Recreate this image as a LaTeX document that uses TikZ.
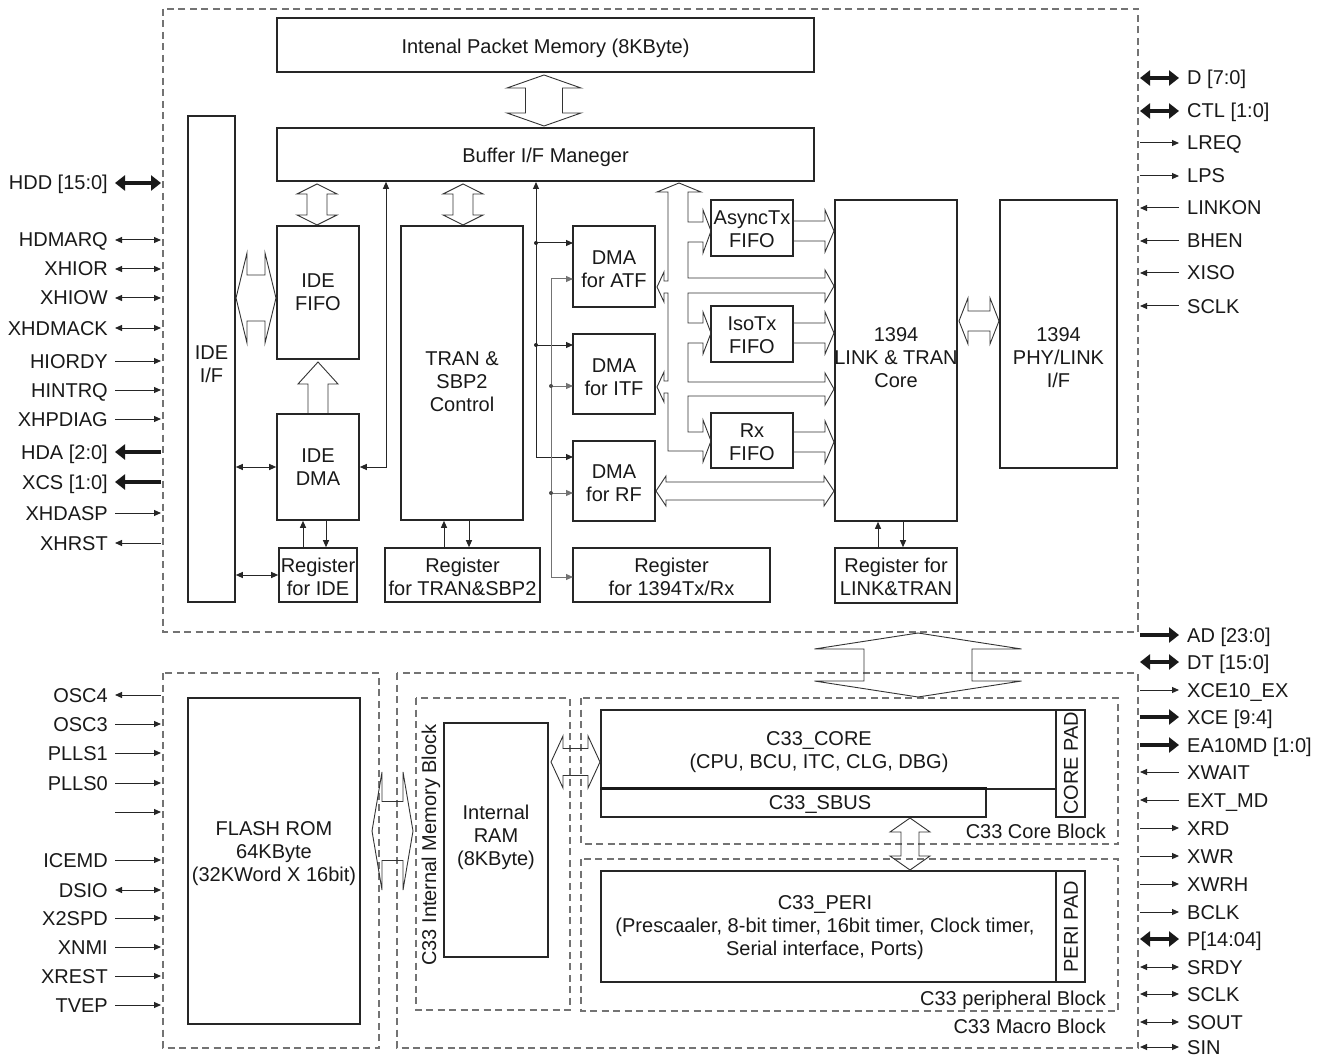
\documentclass[tikz,border=0pt]{standalone}
\usepackage{fontspec}
\setmainfont{Liberation Sans}
\usetikzlibrary{arrows.meta}
\newcommand{\dfont}{\fontsize{20}{23}\selectfont}
\tikzset{
 box/.style={draw=black!85,line width=1.6pt,inner sep=0pt,align=center,font=\dfont,text=black!90},
 txt/.style={inner sep=0pt,align=center,font=\dfont,text=black!90},
 dbox/.style={draw=black!55,line width=1.1pt,dash pattern=on 7pt off 4.5pt},
 hol/.style={draw=black!80,line width=0.9pt,line join=miter},
 ln/.style={draw=black!85,line width=1pt},
 sigR/.style={ln,-{Triangle[length=7pt,width=6pt]}},
 sigL/.style={ln,{Triangle[length=7pt,width=6pt]}-},
 sigB/.style={ln,{Triangle[length=7pt,width=6pt]}-{Triangle[length=7pt,width=6pt]}},
 busR/.style={draw=black!90,line width=4.5pt,-{Triangle[length=10pt,width=15pt]}},
 busL/.style={draw=black!90,line width=4.5pt,{Triangle[length=10pt,width=15pt]}-},
 busB/.style={draw=black!90,line width=4.5pt,{Triangle[length=10pt,width=15pt]}-{Triangle[length=10pt,width=15pt]}},
}
% hollow arrows
\newcommand{\holV}[6]{% x, ytop, ybot, hw, sw, hl
 \draw[hol] (#1,#2) -- ({#1+#4},{#2+#6}) -- ({#1+#5},{#2+#6}) -- ({#1+#5},{#3-#6}) -- ({#1+#4},{#3-#6}) -- (#1,#3) -- ({#1-#4},{#3-#6}) -- ({#1-#5},{#3-#6}) -- ({#1-#5},{#2+#6}) -- ({#1-#4},{#2+#6}) -- cycle;}
\newcommand{\holH}[6]{% y, xl, xr, hw, sw, hl
 \draw[hol] (#2,#1) -- ({#2+#6},{#1-#4}) -- ({#2+#6},{#1-#5}) -- ({#3-#6},{#1-#5}) -- ({#3-#6},{#1-#4}) -- (#3,#1) -- ({#3-#6},{#1+#4}) -- ({#3-#6},{#1+#5}) -- ({#2+#6},{#1+#5}) -- ({#2+#6},{#1+#4}) -- cycle;}
\newcommand{\holR}[6]{% y, xtail, xtip, hw, sw, hl
 \draw[hol] (#2,{#1-#5}) -- ({#3-#6},{#1-#5}) -- ({#3-#6},{#1-#4}) -- (#3,#1) -- ({#3-#6},{#1+#4}) -- ({#3-#6},{#1+#5}) -- (#2,{#1+#5});}
\newcommand{\holU}[6]{% x, ytip, ytail, hw, sw, hl
 \draw[hol] ({#1-#5},#3) -- ({#1-#5},{#2+#6}) -- ({#1-#4},{#2+#6}) -- (#1,#2) -- ({#1+#4},{#2+#6}) -- ({#1+#5},{#2+#6}) -- ({#1+#5},#3);}
\newcommand{\Lsig}[3]{\node[txt,anchor=base east] at (108,{#1+7}) {#2}; \draw[#3] (115,#1) -- (161,#1);}
\newcommand{\Rsig}[3]{\node[txt,anchor=base west] at (1187,{#1+7}) {#2}; \draw[#3] (1140,#1) -- (1179,#1);}
\begin{document}
\begin{tikzpicture}[x=1pt,y=-1pt]
\fill[white] (0,0) rectangle (1324,1056);
\useasboundingbox (0,0) rectangle (1324,1056);

% dashed blocks
\draw[dbox] (163,9) rectangle (1138,632);
\draw[dbox] (163,673) rectangle (379,1048);
\draw[dbox] (397,673) rectangle (1138,1048);
\draw[dbox] (416,698) rectangle (570,1010);
\draw[dbox] (581,698) rectangle (1118,844);
\draw[dbox] (581,859) rectangle (1118,1011);

% ---- upper part
\node[box,minimum width=537pt,minimum height=54pt] (ipm) at (545.5,45) {};
\node[txt] (ipmtxt) at (545.5,48) {Intenal Packet Memory (8KByte)};
\node[box,minimum width=537pt,minimum height=53pt] (buf) at (545.5,154.5) {};
\node[txt] (buftxt) at (545.5,157.5) {Buffer I/F Maneger};
\node[box,minimum width=47pt,minimum height=486pt] (idei) at (211.5,359) {};
\node[txt] (ideitxt) at (211.5,364) {IDE\\I/F};
\node[box,minimum width=82pt,minimum height=133pt] (idefifo) at (318,292.5) {IDE\\FIFO};
\node[box,minimum width=82pt,minimum height=106pt] (idedma) at (318,467) {IDE\\DMA};
\node[box,minimum width=78pt,minimum height=54pt] (regide) at (318,575) {};
\node[txt] (regidetxt) at (318,576.5) {Register\\for IDE};
\node[box,minimum width=122pt,minimum height=294pt] (tran) at (462,373) {};
\node[txt] (trantxt) at (462,382) {TRAN \&\\SBP2\\Control};
\node[box,minimum width=155pt,minimum height=54pt] (regtran) at (462.5,575) {};
\node[txt] (regtrantxt) at (462.5,576.5) {Register\\for TRAN\&SBP2};
\node[box,minimum width=82pt,minimum height=81pt] (dmaatf) at (614,266.5) {};
\node[txt] (dmaatftxt) at (614,269) {DMA\\for ATF};
\node[box,minimum width=82pt,minimum height=80pt] (dmaitf) at (614,374) {};
\node[txt] (dmaitftxt) at (614,377) {DMA\\for ITF};
\node[box,minimum width=82pt,minimum height=80pt] (dmarf) at (614,481) {};
\node[txt] (dmarftxt) at (614,483.5) {DMA\\for RF};
\node[box,minimum width=197pt,minimum height=54pt] (reg1394) at (671.5,575) {};
\node[txt] (reg1394txt) at (671.5,576.5) {Register\\for 1394Tx/Rx};
\node[box,minimum width=82pt,minimum height=56pt] (async) at (752,228) {};
\node[txt] (asynctxt) at (752,229.5) {AsyncTx\\FIFO};
\node[box,minimum width=82pt,minimum height=56pt] (isotx) at (752,334) {};
\node[txt] (isotxtxt) at (752,335.5) {IsoTx\\FIFO};
\node[box,minimum width=82pt,minimum height=55pt] (rxf) at (752,440.5) {};
\node[txt] (rxftxt) at (752,442) {Rx\\FIFO};
\node[box,minimum width=122pt,minimum height=321pt] (core) at (896,360.5) {};
\node[txt] (coretxt) at (896,358) {1394\\LINK \& TRAN\\Core};
\node[box,minimum width=117pt,minimum height=268pt] (phy) at (1058.5,334) {};
\node[txt] (phytxt) at (1058.5,358) {1394\\PHY/LINK\\I/F};
\node[box,minimum width=122pt,minimum height=55pt] (reglink) at (896,575.5) {};
\node[txt] (reglinktxt) at (896,577) {Register for\\LINK\&TRAN};

% hollow arrows upper
\holV{544}{75}{126}{37}{18.5}{13}
\holV{317}{184}{225}{20}{10}{10}
\holV{463}{184}{225}{20}{10}{10}
\holH{298}{236}{276}{45}{23}{11}
\holU{318}{362}{413}{20}{10}{22}
\holH{321}{959}{999}{23}{10}{9}
\holH{491}{656}{834}{15}{9}{10}
\holR{231}{793}{834}{21}{10}{9}
\holR{333}{793}{834}{21}{10}{9}
\holR{442}{793}{834}{21}{10}{9}

% internal bus from buffer
\draw[hol] (668,192) -- (657,192) -- (679,183) -- (701,192) -- (688,192)
 -- (688,222) -- (703,222) -- (703,210) -- (711,231) -- (703,253) -- (703,242) -- (688,242)
 -- (688,278) -- (825,278) -- (825,270) -- (834,286) -- (825,302) -- (825,293) -- (688,293)
 -- (688,323) -- (703,323) -- (703,312) -- (711,333) -- (703,354) -- (703,343) -- (688,343)
 -- (688,382) -- (825,382) -- (825,373) -- (834,389) -- (825,405) -- (825,396) -- (688,396)
 -- (688,432) -- (703,432) -- (703,420) -- (711,441) -- (703,462) -- (703,451) -- (668,451)
 -- (668,393) -- (664,393) -- (664,402) -- (657,387) -- (664,372) -- (664,381) -- (668,381)
 -- (668,293) -- (664,293) -- (664,302) -- (657,287) -- (664,272) -- (664,281) -- (668,281)
 -- cycle;

% thin connectors
\draw[sigB] (idei.east |- idedma.west) -- (idedma.west);
\draw[sigB] (idei.east |- regide.west) -- (regide.west);
\draw[sigR] ([xshift=-15pt]regide.north) -- ([xshift=-15pt]idedma.south);
\draw[sigR] ([xshift=8pt]idedma.south) -- ([xshift=8pt]regide.north);
\draw[sigR] ([xshift=-18.5pt]regtran.north) -- ([xshift=-18pt]tran.south);
\draw[sigR] ([xshift=7pt]tran.south) -- ([xshift=6.5pt]regtran.north);
\draw[sigR] ([xshift=-18pt]reglink.north) -- ([xshift=-18pt]core.south);
\draw[sigR] ([xshift=7pt]core.south) -- ([xshift=7pt]reglink.north);
\coordinate (xC) at (386,0);
\draw[sigB] (idedma.east) -- (idedma.east -| xC) -- (xC |- buf.south);
% line A
\draw[sigB] (573,457) -- (536,457) -- (536,182);
\draw[sigR] (536,243) -- (573,243);
\draw[sigR] (536,345) -- (573,345);
\fill[black!85] (536,243) circle (2pt) (536,345) circle (2pt);
% line B
\draw[sigB,draw=black!55] (573,279) -- (551,279) -- (551,577) -- (573,577);
\draw[sigR,draw=black!55] (551,386) -- (573,386);
\draw[sigR,draw=black!55] (551,493) -- (573,493);
\fill[black!70] (551,386) circle (2pt) (551,493) circle (2pt);

% ---- lower part
\node[box,minimum width=172pt,minimum height=326pt] (flash) at (274,861) {};
\node[txt] (flashtxt) at (274,854) {FLASH ROM\\64KByte\\(32KWord X 16bit)};
\node[box,minimum width=104pt,minimum height=234pt] (ram) at (496,840) {};
\node[txt] (ramtxt) at (496,837) {Internal\\RAM\\(8KByte)};
\node[txt,rotate=90] (memlbl) at (431,845) {C33 Internal Memory Block};
\node[box,minimum width=455pt,minimum height=79pt] (c33core) at (828.5,749.5) {};
\node[txt] (c33coretxt) at (819,752) {C33\_CORE\\(CPU, BCU, ITC, CLG, DBG)};
\node[box,minimum width=29pt,minimum height=107pt] (corepad) at (1070.5,763.5) {};
\node[txt,rotate=90] (corepadtxt) at (1071,763.5) {CORE PAD};
\node[box,minimum width=385pt,minimum height=28pt] (sbus) at (793.5,803) {};
\node[txt] (sbustxt) at (820,804) {C33\_SBUS};
\draw[line width=3pt,black!90] (sbus.north west) -- (sbus.north east);
\node[box,minimum width=455pt,minimum height=111pt] (peri) at (828.5,926.5) {};
\node[txt] (peritxt) at (825,928) {C33\_PERI\\(Prescaaler, 8-bit timer, 16bit timer, Clock timer,\\Serial interface, Ports)};
\node[box,minimum width=29pt,minimum height=111pt] (peripad) at (1070.5,926.5) {};
\node[txt,rotate=90] (peripadtxt) at (1071,926.5) {PERI PAD};
\node[txt,anchor=base east] (corelbl) at (1106,838) {C33 Core Block};
\node[txt,anchor=base east] (perilbl) at (1106,1005) {C33 peripheral Block};
\node[txt,anchor=base east] (macrolbl) at (1106,1033) {C33 Macro Block};

\holH{831}{372}{413}{59}{29.5}{10}
\holH{762}{551}{600}{26}{13.5}{12}
\holV{910}{818}{870}{20}{9}{14}
\holV{918}{633}{697}{103.5}{54}{16}

% ---- signals left
\Lsig{183}{HDD [15:0]}{busB}
\Lsig{240}{HDMARQ}{sigB}
\Lsig{269}{XHIOR}{sigB}
\Lsig{298}{XHIOW}{sigB}
\Lsig{328}{XHDMACK}{sigB}
\Lsig{361}{HIORDY}{sigR}
\Lsig{390}{HINTRQ}{sigR}
\Lsig{419}{XHPDIAG}{sigR}
\Lsig{452}{HDA [2:0]}{busL}
\Lsig{482}{XCS [1:0]}{busL}
\Lsig{513}{XHDASP}{sigR}
\Lsig{543}{XHRST}{sigL}
\Lsig{695}{OSC4}{sigL}
\Lsig{724}{OSC3}{sigR}
\Lsig{753}{PLLS1}{sigR}
\Lsig{783}{PLLS0}{sigR}
\Lsig{812}{}{sigR}
\Lsig{860}{ICEMD}{sigR}
\Lsig{890}{DSIO}{sigB}
\Lsig{918}{X2SPD}{sigR}
\Lsig{947}{XNMI}{sigR}
\Lsig{976}{XREST}{sigR}
\Lsig{1005}{TVEP}{sigR}

% ---- signals right
\Rsig{78}{D [7:0]}{busB}
\Rsig{111}{CTL [1:0]}{busB}
\Rsig{143}{LREQ}{sigR}
\Rsig{176}{LPS}{sigR}
\Rsig{208}{LINKON}{sigL}
\Rsig{241}{BHEN}{sigL}
\Rsig{273}{XISO}{sigL}
\Rsig{306}{SCLK}{sigL}
\Rsig{635}{AD [23:0]}{busR}
\Rsig{662}{DT [15:0]}{busB}
\Rsig{690}{XCE10\_EX}{sigR}
\Rsig{717}{XCE [9:4]}{busR}
\Rsig{745}{EA10MD [1:0]}{busR}
\Rsig{772}{XWAIT}{sigL}
\Rsig{800}{EXT\_MD}{sigL}
\Rsig{828}{XRD}{sigR}
\Rsig{856}{XWR}{sigR}
\Rsig{884}{XWRH}{sigR}
\Rsig{912}{BCLK}{sigR}
\Rsig{939}{P[14:04]}{busB}
\Rsig{967}{SRDY}{sigB}
\Rsig{994}{SCLK}{sigB}
\Rsig{1022}{SOUT}{sigB}
\node[txt,anchor=base west] (sinlbl) at (1187,1054) {SIN};
\draw[sigB] (1140,1047) -- (1179,1047);
\end{tikzpicture}
\end{document}
